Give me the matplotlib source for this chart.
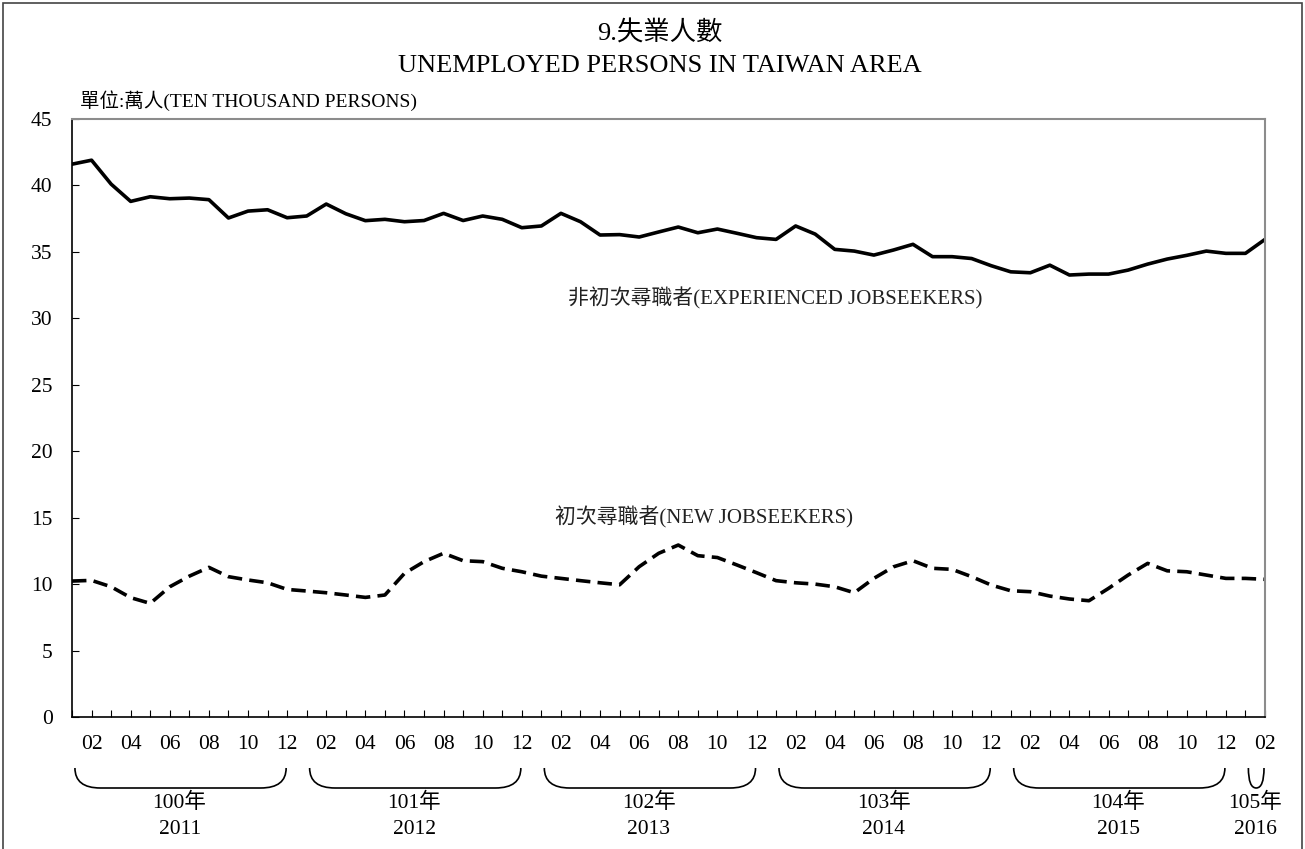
import matplotlib
matplotlib.use('Agg')
import matplotlib.pyplot as plt
from matplotlib.path import Path
from matplotlib.patches import PathPatch, Rectangle
from matplotlib.transforms import blended_transform_factory

plt.rcParams['font.family'] = ['Liberation Serif', 'Noto Sans CJK TC']

# 月份 2011/01 - 2016/02
years = [2011, 2012, 2013, 2014, 2015, 2016]
roc_years = ['100年', '101年', '102年', '103年', '104年', '105年']
months_in_year = [12, 12, 12, 12, 12, 2]

# 非初次尋職者 (萬人)
experienced = [41.6, 41.9, 40.1, 38.8, 39.15, 39.0, 39.05, 38.93, 37.55, 38.07, 38.17, 37.57,
               37.7, 38.6, 37.87, 37.35, 37.45, 37.27, 37.36, 37.9, 37.36, 37.7, 37.45, 36.82,
               36.95, 37.9, 37.27, 36.27, 36.3, 36.12, 36.5, 36.87, 36.44, 36.72, 36.4, 36.07,
               35.94, 36.95, 36.34, 35.19, 35.06, 34.76, 35.14, 35.57, 34.64, 34.64, 34.5, 33.96,
               33.5, 33.43, 34.0, 33.26, 33.33, 33.33, 33.63, 34.08, 34.46, 34.74, 35.06, 34.89,
               34.89, 35.94]

# 初次尋職者 (萬人)
new_seekers = [10.23, 10.28, 9.8, 8.98, 8.55, 9.8, 10.6, 11.26, 10.56, 10.31, 10.1, 9.6,
               9.48, 9.35, 9.18, 9.0, 9.18, 10.81, 11.69, 12.32, 11.76, 11.69, 11.19, 10.93,
               10.6, 10.43, 10.26, 10.1, 9.95, 11.31, 12.32, 12.94, 12.14, 12.0, 11.44, 10.86,
               10.26, 10.1, 10.0, 9.8, 9.35, 10.43, 11.3, 11.76, 11.19, 11.11, 10.56, 9.93,
               9.5, 9.43, 9.1, 8.88, 8.75, 9.68, 10.68, 11.56, 11.0, 10.93, 10.68, 10.43,
               10.43, 10.36]

month_labels = []
for n in months_in_year:
    for m in range(1, n + 1):
        month_labels.append('%02d' % m)
x = list(range(len(month_labels)))

fig = plt.figure(figsize=(13.05, 8.49), dpi=100)
ax = fig.add_axes([72 / 1305, 1 - 717 / 849, (1265 - 72) / 1305, (717 - 119) / 849])

ax.plot(x, experienced, color='black', lw=2.6)
ax.plot(x, new_seekers, color='black', lw=2.6, linestyle=(0, (4, 2)))

ax.set_xlim(0, len(x) - 1)
ax.set_ylim(0, 45)
ax.set_yticks(range(0, 46, 5))
ax.set_xticks(x)
ax.set_xticklabels([lab if int(lab) % 2 == 0 else '' for lab in month_labels])
ax.tick_params(axis='both', direction='in', length=5, labelsize=15.5, color='black')
ax.tick_params(axis='x', pad=13)
ax.tick_params(axis='y', pad=14)

for side in ['top', 'right']:
    ax.spines[side].set_color('#8c8c8c')
    ax.spines[side].set_linewidth(1.5)
for side in ['left', 'bottom']:
    ax.spines[side].set_color('black')
    ax.spines[side].set_linewidth(1.2)

ax.annotate('非初次尋職者(EXPERIENCED JOBSEEKERS)', xy=(568 / 1305, 1 - 298 / 849),
            xycoords='figure fraction', fontsize=15, va='center', ha='left', color='#222222')
ax.annotate('初次尋職者(NEW JOBSEEKERS)', xy=(555 / 1305, 1 - 517 / 849),
            xycoords='figure fraction', fontsize=15, va='center', ha='left', color='#222222')

# 年份括號
trans = blended_transform_factory(ax.transData, ax.transAxes)
yt = (717 - 768) / 598
yb = (717 - 788) / 598
start = 0
for n, roc, ad in zip(months_in_year, roc_years, years):
    x0 = start + 0.15
    x1 = start + n - 1 - 0.05
    r = min(1.3, (x1 - x0) / 2)
    verts = [(x0, yt), (x0, yb), (x0 + r, yb), (x1 - r, yb), (x1, yb), (x1, yt)]
    codes = [Path.MOVETO, Path.CURVE3, Path.CURVE3, Path.LINETO, Path.CURVE3, Path.CURVE3]
    ax.add_patch(PathPatch(Path(verts, codes), transform=trans, fill=False,
                           lw=1.2, edgecolor='black', clip_on=False))
    xc = start + (n - 1) / 2
    ax.text(xc, (717 - 803) / 598, roc, transform=trans, ha='center', va='center', fontsize=15.5)
    ax.text(xc, (717 - 830) / 598, str(ad), transform=trans, ha='center', va='center', fontsize=15.5)
    start += n

fig.text(660 / 1305, 1 - 33 / 849, '9.失業人數', ha='center', va='center', fontsize=19)
fig.text(660 / 1305, 1 - 66 / 849, 'UNEMPLOYED PERSONS IN TAIWAN AREA', ha='center', va='center', fontsize=19)
fig.text(80 / 1305, 1 - 101 / 849, '單位:萬人(TEN THOUSAND PERSONS)', ha='left', va='center', fontsize=14)

fig.patches.append(Rectangle((3 / 1305, -0.01), 1299 / 1305, 1.01 - 3 / 849, transform=fig.transFigure,
                             fill=False, edgecolor='#444444', lw=1.2))

fig.savefig('out.png', dpi=100)
